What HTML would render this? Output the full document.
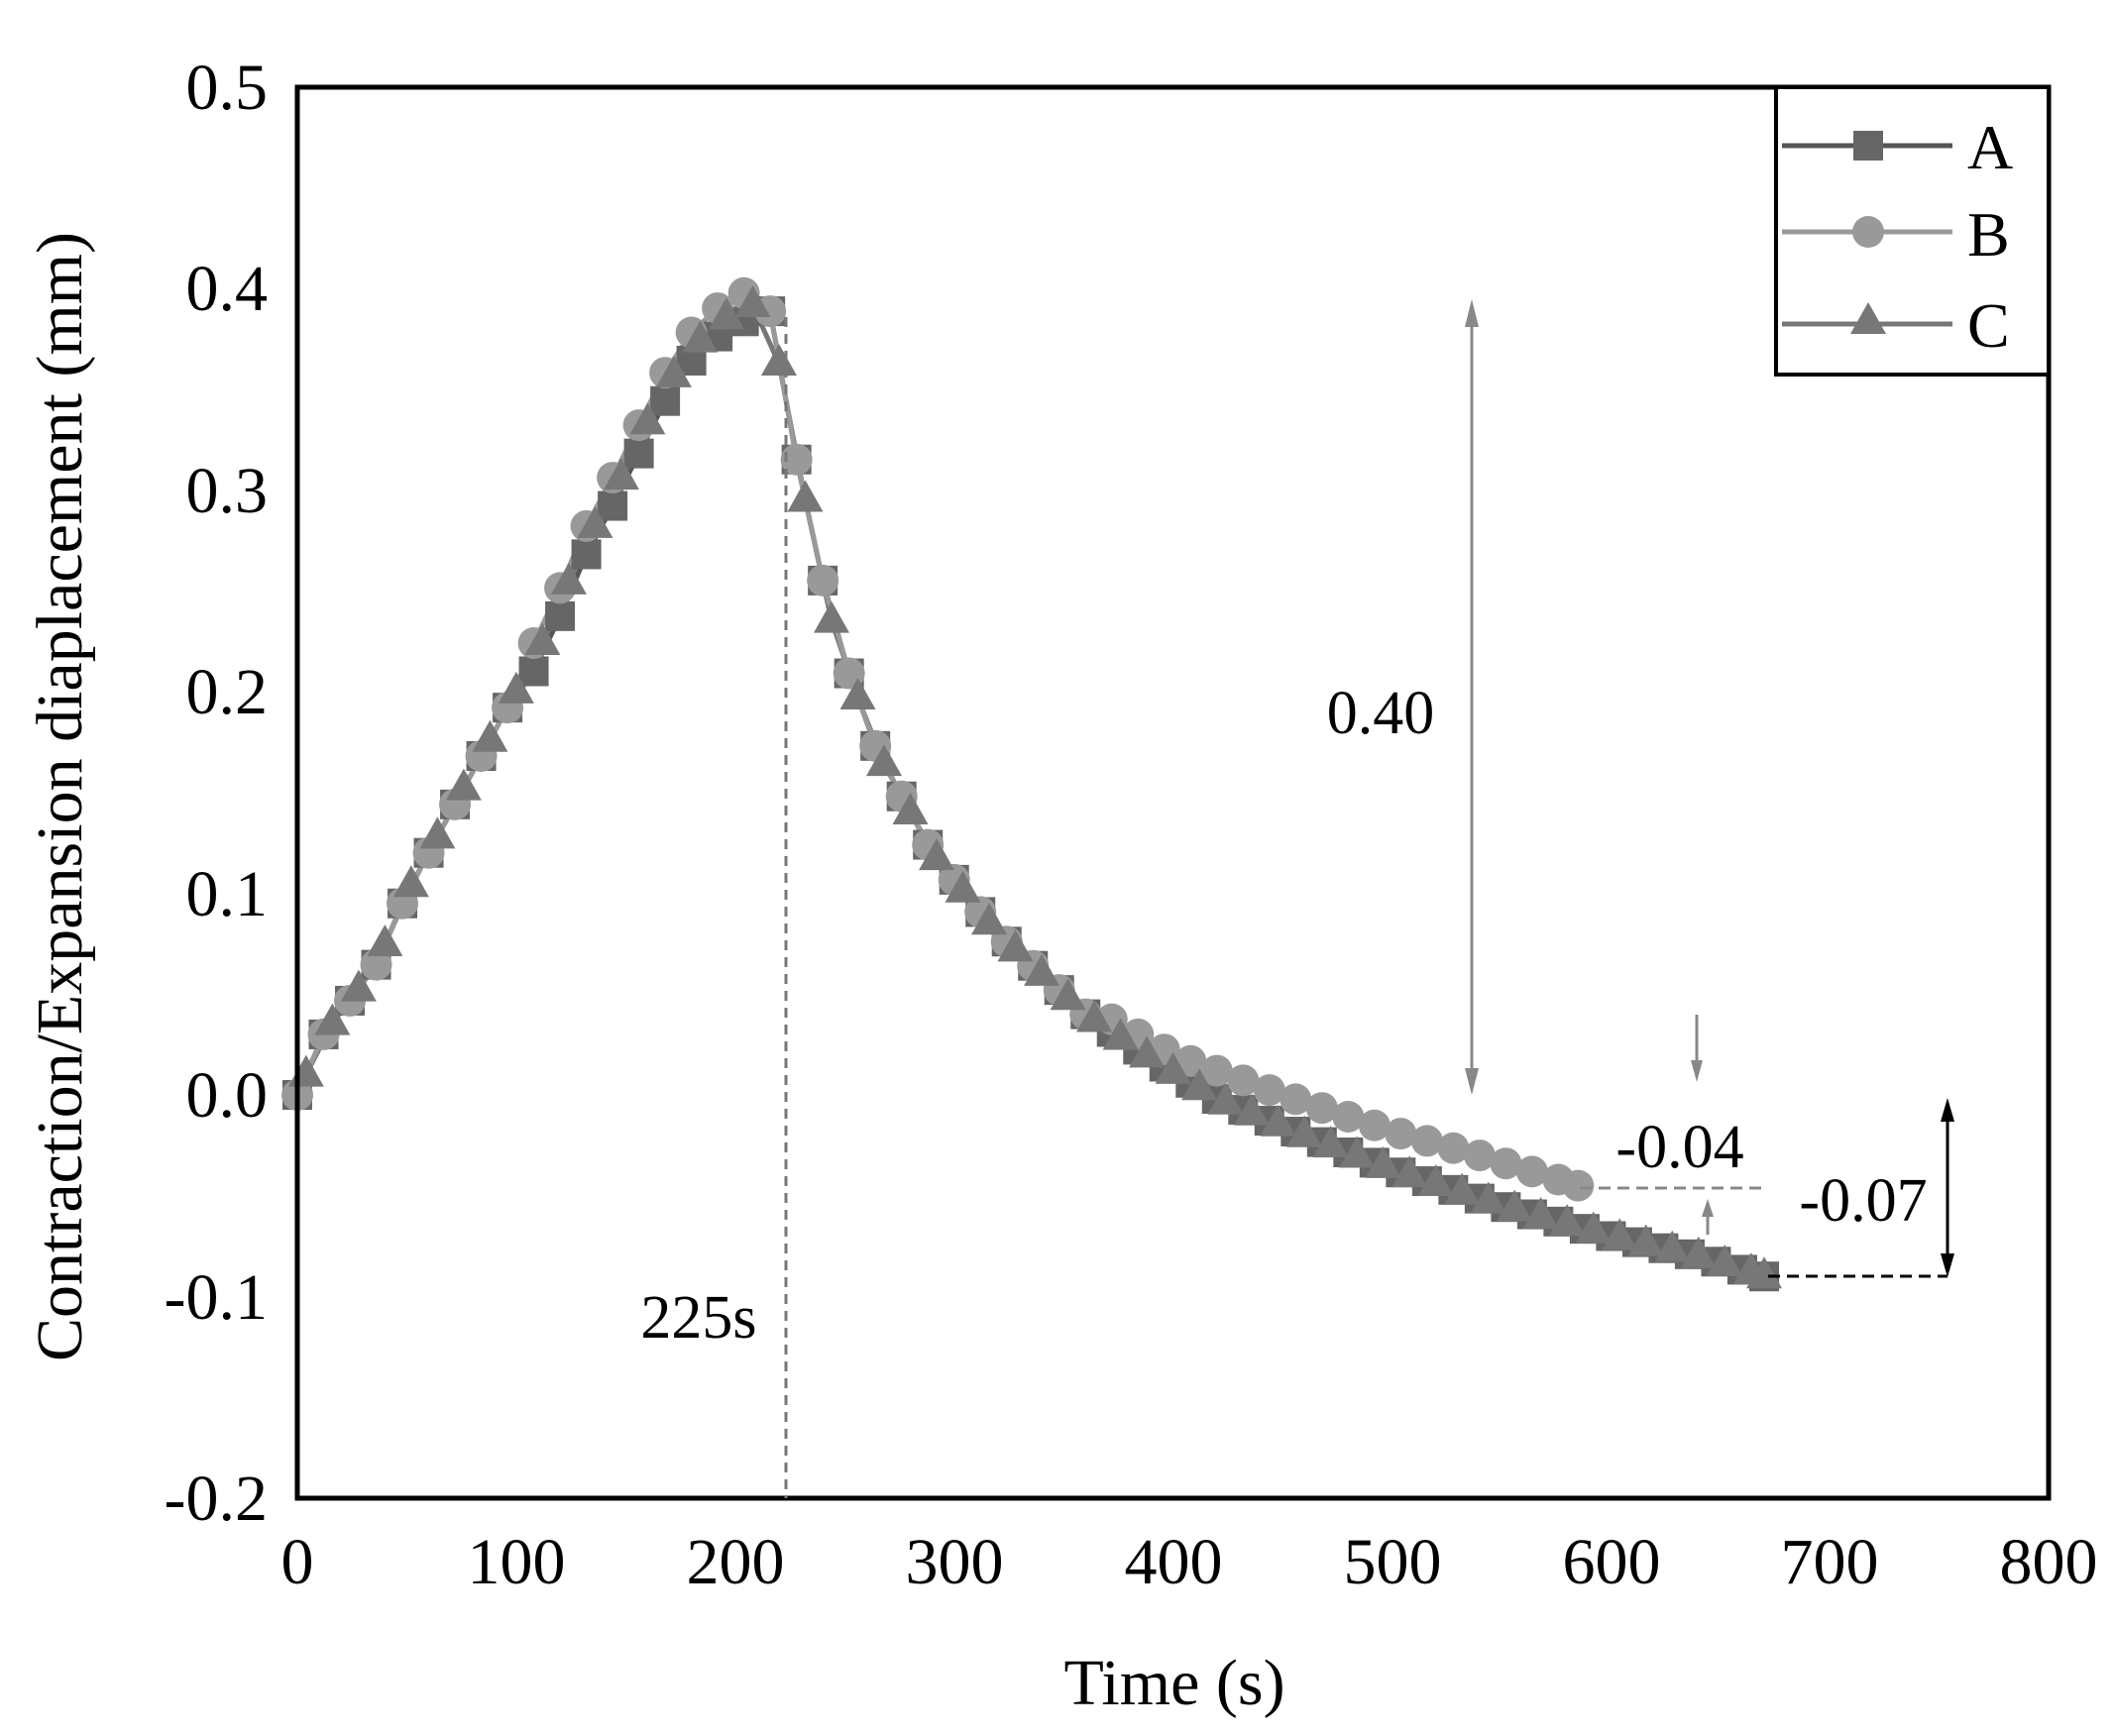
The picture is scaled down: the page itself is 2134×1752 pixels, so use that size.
<!DOCTYPE html>
<html><head><meta charset="utf-8"><style>html,body{margin:0;padding:0;background:#fff}svg{display:block}</style></head>
<body>
<svg id="s" width="2134" height="1752" xmlns="http://www.w3.org/2000/svg" font-family="'Liberation Serif',serif">
<rect width="2134" height="1752" fill="#fff"/>
<g id="data"></g>
<!-- axes frame -->
<rect x="300" y="88" width="1767" height="1424" fill="none" stroke="#000" stroke-width="5"/>
<!-- y tick labels -->
<g font-size="66" text-anchor="end">
<text x="270" y="110">0.5</text>
<text x="270" y="313">0.4</text>
<text x="270" y="517">0.3</text>
<text x="270" y="720">0.2</text>
<text x="270" y="924">0.1</text>
<text x="270" y="1127">0.0</text>
<text x="270" y="1331">-0.1</text>
<text x="270" y="1534">-0.2</text>
</g>
<g font-size="66" text-anchor="middle">
<text x="300" y="1598">0</text>
<text x="521" y="1598">100</text>
<text x="742" y="1598">200</text>
<text x="963" y="1598">300</text>
<text x="1184" y="1598">400</text>
<text x="1405" y="1598">500</text>
<text x="1626" y="1598">600</text>
<text x="1846" y="1598">700</text>
<text x="2067" y="1598">800</text>
<text x="1185" y="1720">Time (s)</text>
<text transform="translate(82,804) rotate(-90)">Contraction/Expansion diaplacement (mm)</text>
</g>
<!-- annotations -->
<line x1="793" y1="320" x2="793" y2="1512" stroke="#777" stroke-width="3" stroke-dasharray="10,7"/>
<text x="705" y="1350" font-size="62" text-anchor="middle">225s</text>
<text x="1393" y="740" font-size="62" text-anchor="middle">0.40</text>
<line x1="1485" y1="320" x2="1485" y2="1090" stroke="#888" stroke-width="3"/>
<polygon points="1485,302 1478,330 1492,330" fill="#888"/>
<polygon points="1485,1105 1478,1078 1492,1078" fill="#888"/>
<text x="1695" y="1178" font-size="62" text-anchor="middle">-0.04</text>
<line x1="1712" y1="1024" x2="1712" y2="1080" stroke="#888" stroke-width="3"/>
<polygon points="1712,1092 1706,1070 1718,1070" fill="#888"/>
<line x1="1594" y1="1199" x2="1784" y2="1199" stroke="#888" stroke-width="3" stroke-dasharray="12,7"/>
<line x1="1723" y1="1218" x2="1723" y2="1246" stroke="#888" stroke-width="3"/>
<polygon points="1723,1210 1717,1228 1729,1228" fill="#888"/>
<text x="1880" y="1232" font-size="62" text-anchor="middle">-0.07</text>
<line x1="1965" y1="1120" x2="1965" y2="1277" stroke="#000" stroke-width="3"/>
<polygon points="1965,1108 1958,1132 1972,1132" fill="#000"/>
<polygon points="1965,1289 1958,1265 1972,1265" fill="#000"/>
<line x1="1784" y1="1288" x2="1965" y2="1288" stroke="#000" stroke-width="3" stroke-dasharray="12,7"/>
<!-- legend -->
<rect x="1792" y="88" width="275" height="290" fill="#fff" stroke="#000" stroke-width="4"/>
<line x1="1798" y1="147" x2="1970" y2="147" stroke="#555" stroke-width="5"/>
<rect x="1870" y="132" width="30" height="30" fill="#666"/>
<line x1="1798" y1="234" x2="1970" y2="234" stroke="#999" stroke-width="5"/>
<circle cx="1885" cy="234" r="16" fill="#999"/>
<line x1="1798" y1="327" x2="1970" y2="327" stroke="#777" stroke-width="5"/>
<polygon points="1885,305 1867,337 1903,337" fill="#777"/>
<g font-size="64">
<text x="1985" y="170">A</text>
<text x="1985" y="258">B</text>
<text x="1985" y="350">C</text>
</g>
</svg>
<script>
(function(){
function X(t){return 300+t*2.209;}
function Y(v){return 1105-v*2035.7;}
var base=[[0,0],[12,0.03],[35,0.062],[50,0.1],[65,0.13],[80,0.16],[100,0.2],[115,0.23],[130,0.27],[150,0.31],[165,0.345],[180,0.37],[195,0.385],[215,0.395],[225,0.33],[245,0.23],[265,0.17],[275,0.15],[290,0.12],[305,0.1],[320,0.08],[340,0.06],[360,0.04],[390,0.018],[420,-0.002],[460,-0.02],[500,-0.037],[550,-0.055],[600,-0.07],[640,-0.08],[670,-0.09]];
var baseB=[[360,0.045],[400,0.02],[450,0.0],[500,-0.018],[540,-0.03],[585,-0.045]];
function interp(pts,t){for(var i=1;i<pts.length;i++){if(t<=pts[i][0]){var a=pts[i-1],b=pts[i];return a[1]+(b[1]-a[1])*(t-a[0])/(b[0]-a[0]);}}return pts[pts.length-1][1];}
function valB(t){if(t<=360)return interp(base,t)+(t<215&&t>100?0.008:0);return interp(baseB,t);}
function valA(t){return interp(base,t)-(t<215&&t>100?0.006:0);}
function valC(t){return interp(base,t);}
var g=document.getElementById('data'),ns='http://www.w3.org/2000/svg',h='';
function series(f,end,step,off,col){var pts=[];for(var t=off;t<=end;t+=step)pts.push([t,f(t)]);if(pts[pts.length-1][0]<end)pts.push([end,f(end)]);
var d='';pts.forEach(function(p,i){d+=(i?'L':'M')+X(p[0]).toFixed(1)+','+Y(p[1]).toFixed(1);});
h+='<path d="'+d+'" fill="none" stroke="'+col+'" stroke-width="5"/>';return pts;}
var pa=series(valA,670,12,0,'#555'),pc=series(valC,670,12,4,'#777'),pb=series(valB,585,12,0,'#999');
pa.forEach(function(p){h+='<rect x="'+(X(p[0])-15)+'" y="'+(Y(p[1])-15)+'" width="30" height="30" fill="#666"/>';});
pb.forEach(function(p){h+='<circle cx="'+X(p[0])+'" cy="'+Y(p[1])+'" r="16" fill="#999"/>';});
pc.forEach(function(p){var x=X(p[0]),y=Y(p[1]);h+='<polygon points="'+x+','+(y-20)+' '+(x-18)+','+(y+12)+' '+(x+18)+','+(y+12)+'" fill="#777"/>';});
g.innerHTML=h;
})();
</script>
</body></html>
